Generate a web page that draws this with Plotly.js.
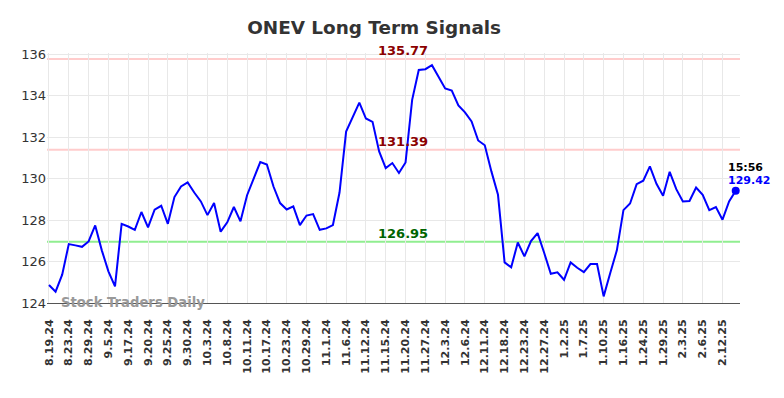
<!DOCTYPE html>
<html>
<head>
<meta charset="utf-8">
<script src="https://cdn.plot.ly/plotly-3.0.1.min.js"></script>
<style>html,body{margin:0;padding:0;background:#fff;}#chart{width:784px;height:398px;}</style>
</head>
<body>
<div id="chart"></div>
<script>
// Closing prices (one per trading session shown)
const prices = [
  124.87,124.55,125.37,126.84,126.78,126.71,126.97,127.74,126.54,125.53,
  124.80,127.82,127.69,127.53,128.39,127.65,128.50,128.69,127.82,129.11,
  129.62,129.82,129.33,128.90,128.24,128.82,127.44,127.89,128.63,127.94,
  129.20,130.04,130.80,130.68,129.62,128.82,128.51,128.66,127.76,128.22,
  128.29,127.53,127.60,127.76,129.33,132.27,132.95,133.67,132.90,132.74,
  131.31,130.51,130.75,130.27,130.78,133.80,135.24,135.28,135.47,134.92,
  134.35,134.25,133.53,133.20,132.76,131.84,131.61,130.35,129.22,125.96,
  125.72,126.92,126.25,126.99,127.37,126.41,125.41,125.48,125.12,125.96,
  125.70,125.49,125.88,125.88,124.32,125.45,126.54,128.48,128.80,129.73,
  129.90,130.59,129.75,129.17,130.33,129.49,128.90,128.92,129.57,129.22,
  128.48,128.63,128.02,128.90,129.42
];
// Tick labels (every third session)
const tickLabels = ["8.19.24","8.23.24","8.29.24","9.5.24","9.17.24","9.20.24","9.25.24","9.30.24",
  "10.3.24","10.8.24","10.11.24","10.17.24","10.23.24","10.29.24","11.1.24","11.6.24","11.12.24",
  "11.15.24","11.20.24","11.27.24","12.3.24","12.6.24","12.11.24","12.18.24","12.23.24","12.27.24",
  "1.2.25","1.7.25","1.10.25","1.16.25","1.24.25","1.29.25","2.3.25","2.6.25","2.12.25"];
const tickStep = 3;
// Signal levels
const upperLevel = 135.77;
const midLevel = 131.39;
const lowerLevel = 126.95;
const lastTime = "15:56";
const lastPrice = 129.42;

const xs = prices.map((_, i) => i);
const lastIdx = prices.length - 1;
const tickvals = tickLabels.map((_, i) => i * tickStep);

const font = "DejaVu Sans, Verdana, sans-serif";

const traces = [
  {x: xs, y: prices, type: "scatter", mode: "lines",
   line: {color: "#0000ff", width: 2}, hoverinfo: "skip"},
  {x: [lastIdx], y: [lastPrice], type: "scatter", mode: "markers",
   marker: {color: "#0000ff", size: 8}, hoverinfo: "skip"}
];

function hline(v, color) {
  return {type: "line", xref: "paper", x0: 0, x1: 1, yref: "y", y0: v, y1: v,
          line: {color: color, width: 2}, layer: "below"};
}

const layout = {
  width: 784, height: 398,
  margin: {l: 47, r: 44, t: 53, b: 95},
  paper_bgcolor: "#ffffff", plot_bgcolor: "#ffffff",
  showlegend: false,
  title: {text: "<b>ONEV Long Term Signals</b>", xref: "paper", x: 0.472, xanchor: "center",
          yref: "container", y: 0.932, yanchor: "middle",
          font: {family: font, size: 18.4, color: "#333333"}},
  xaxis: {
    range: [-0.3, 104.65],
    tickmode: "array", tickvals: tickvals, ticktext: tickLabels.map(t => "<b>" + t + "</b>"),
    tickangle: -90, tickfont: {family: font, size: 11, color: "#333333"},
    ticks: "outside", ticklen: 11, tickcolor: "rgba(0,0,0,0)",
    showgrid: true, gridcolor: "#e8e8e8", gridwidth: 1,
    showline: true, linecolor: "#555555", linewidth: 1,
    zeroline: false, fixedrange: true
  },
  yaxis: {
    range: [124, 136.06],
    tickvals: [124,126,128,130,132,134,136],
    tickfont: {family: font, size: 13, color: "#333333"},
    showgrid: true, gridcolor: "#e8e8e8", gridwidth: 1,
    zeroline: false, showline: false, ticks: "", fixedrange: true
  },
  shapes: [hline(upperLevel, "#ffcccc"), hline(midLevel, "#ffcccc"), hline(lowerLevel, "#90ee90")],
  annotations: [
    {x: 0.514, xref: "paper", y: upperLevel, yref: "y", text: "<b>" + upperLevel.toFixed(2) + "</b>",
     showarrow: false, yanchor: "bottom", yshift: -1, font: {family: font, size: 13, color: "#8b0000"}},
    {x: 0.514, xref: "paper", y: midLevel, yref: "y", text: "<b>" + midLevel.toFixed(2) + "</b>",
     showarrow: false, yanchor: "bottom", yshift: -1, font: {family: font, size: 13, color: "#8b0000"}},
    {x: 0.514, xref: "paper", y: lowerLevel, yref: "y", text: "<b>" + lowerLevel.toFixed(2) + "</b>",
     showarrow: false, yanchor: "bottom", yshift: -1, font: {family: font, size: 13, color: "#006400"}},
    {x: lastIdx, xref: "x", y: lastPrice, yref: "y", text: "<b>" + lastTime + "</b>",
     showarrow: false, xanchor: "center", yanchor: "bottom", xshift: 10, yshift: 15,
     font: {family: font, size: 11, color: "#000000"}},
    {x: lastIdx, xref: "x", y: lastPrice, yref: "y", text: "<b>" + lastPrice.toFixed(2) + "</b>",
     showarrow: false, xanchor: "center", yanchor: "bottom", xshift: 13, yshift: 2,
     font: {family: font, size: 11, color: "#0000ff"}},
    {x: 0.018, xref: "paper", y: 0, yref: "paper", text: "<b>Stock Traders Daily</b>",
     showarrow: false, xanchor: "left", yanchor: "middle", yshift: 1,
     font: {family: font, size: 13.2, color: "#999999"}}
  ]
};

Plotly.newPlot("chart", traces, layout, {displayModeBar: false, staticPlot: true});
</script>
</body>
</html>
